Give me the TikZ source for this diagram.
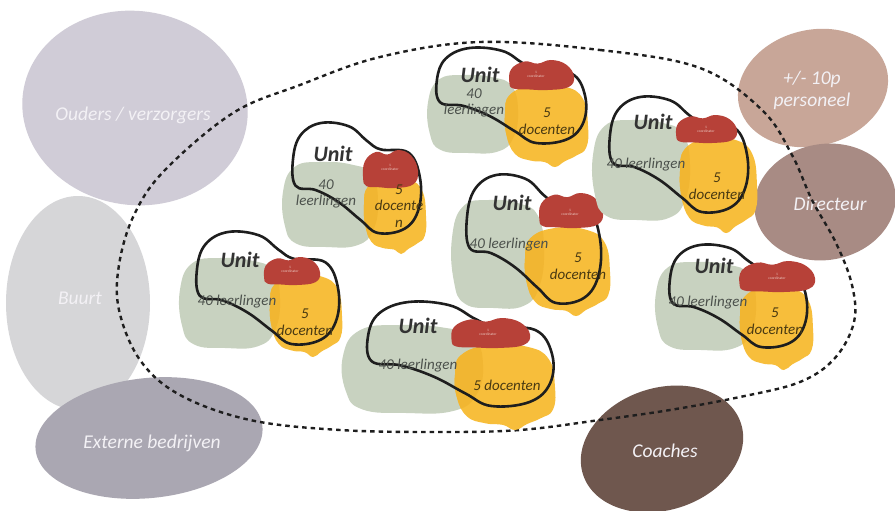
\documentclass[tikz,border=0pt]{standalone}
\usepackage{fontspec}
\setmainfont{Carlito}[ItalicFont={Carlito Italic},BoldFont={Carlito Bold},BoldItalicFont={Carlito Bold Italic}]
\definecolor{couders}{HTML}{D0CCD7}
\definecolor{cbuurt}{HTML}{D6D6D8}
\definecolor{cextern}{HTML}{AAA7B2}
\definecolor{cpers}{HTML}{C8A698}
\definecolor{cdir}{HTML}{A88B84}
\definecolor{ccoach}{HTML}{6F574E}
\definecolor{cgreen}{HTML}{C8D2C0}
\definecolor{cyellow}{HTML}{F7BE3B}
\definecolor{cyellowdk}{HTML}{F1B632}
\definecolor{cred}{HTML}{B74138}
\definecolor{cline}{HTML}{1E1E1E}
\definecolor{ctitle}{HTML}{333333}
\definecolor{cll}{HTML}{4C514C}
\definecolor{cdoc}{HTML}{4A3A12}
\definecolor{clabel}{HTML}{F3F1F5}
\definecolor{ccoord}{HTML}{EBC9C2}
\newcommand\greenshape{plot[smooth cycle,tension=0.75] coordinates {(0.12,0.06) (0.4,0) (0.72,0.03) (0.93,0.14) (1,0.45) (0.95,0.8) (0.78,0.98) (0.45,1) (0.14,0.96) (0.02,0.75) (0,0.35)}}
\newcommand\yellowshape{plot[smooth cycle,tension=0.75] coordinates {(0.06,0.12) (0.35,0) (0.72,0.02) (0.94,0.17) (1,0.5) (0.98,0.76) (0.86,0.86) (0.72,0.93) (0.6,1) (0.48,0.94) (0.3,0.92) (0.12,0.84) (0.02,0.62) (0,0.35)}}
\newcommand\redshape{plot[smooth cycle,tension=0.7] coordinates {(0.02,0.75) (0.05,0.3) (0.25,0.05) (0.45,0.12) (0.65,0) (0.88,0.15) (1,0.55) (0.92,0.9) (0.6,1) (0.3,0.98) (0.08,0.95)}}
\newcommand\outlineshape{plot[smooth cycle,tension=0.65] coordinates {(0,0.33) (0.06,0.11) (0.22,0) (0.44,0.03) (0.58,0.16) (0.69,0.24) (0.91,0.27) (1,0.5) (0.99,0.78) (0.88,0.96) (0.67,1) (0.53,0.88) (0.36,0.72) (0.18,0.61) (0.02,0.57)}}
\newcommand\unitblobs[4]{%
  \begin{scope}[#1]\fill[cgreen] \greenshape;\end{scope}
  \begin{scope}[#2]\fill[cyellow] \yellowshape; \clip \yellowshape;
    \begin{scope}[reset cm,#1]\fill[cyellowdk] \greenshape;\end{scope}
  \end{scope}
  \begin{scope}[#4]\draw[unitline] \outlineshape;\end{scope}
  \begin{scope}[#3]\fill[cred] \redshape;\end{scope}
}
\tikzset{
  unitline/.style={draw=cline,line width=2.6pt},
  dashline/.style={draw=cline,line width=2.4pt,dash pattern=on 4.5pt off 4pt},
  unittitle/.style={font=\fontsize{22}{22}\selectfont\bfseries\itshape,text=ctitle,inner sep=0pt},
  lltext/.style={font=\fontsize{15}{16}\selectfont\itshape,text=cll,align=center,inner sep=0pt},
  doctext/.style={font=\fontsize{15}{16.5}\selectfont\itshape,text=cdoc,align=center,inner sep=0pt},
  coordtext/.style={font=\fontsize{3.6}{4.2}\selectfont,text=ccoord,align=center,inner sep=0pt},
  outlabel/.style={font=\fontsize{19.5}{22}\selectfont\itshape,text=clabel,align=center,inner sep=0pt}
}
\begin{document}
\begin{tikzpicture}[x=1pt,y=-1pt]
\useasboundingbox (0,0) rectangle (895,511);
\fill[white] (0,0) rectangle (895,511);
% outer groups
\fill[couders,rotate around={-8:(135,108)}] (135,108) ellipse [x radius=113,y radius=97];
\fill[cbuurt] (78,303) ellipse [x radius=72,y radius=107];
\fill[cextern,rotate around={6:(149,438)}] (149,438) ellipse [x radius=114,y radius=60];
\fill[cpers,rotate around={14:(813,88)}] (813,88) ellipse [x radius=76,y radius=58];
\fill[cdir,rotate around={10:(825,202)}] (825,202) ellipse [x radius=71,y radius=58];
\fill[ccoach,rotate around={18:(662,449)}] (662,449) ellipse [x radius=83,y radius=61];
\node[outlabel] (ouders) at (133,115) {Ouders / verzorgers};
\node[outlabel] (buurt) at (80,298) {Buurt};
\node[outlabel] (extern) at (152,443) {Externe bedrijven};
\node[outlabel] (pers) at (812,90) {+/- 10p\\personeel};
\node[outlabel] (dir) at (830,204) {Directeur};
\node[outlabel] (coach) at (665,451) {Coaches};
% school boundary
\draw[dashline] plot[smooth cycle,tension=0.6] coordinates {(480,42) (600,50) (700,68) (762,110) (792,155) (812,200) (836,243) (852,285) (854,322) (835,358) (800,382) (740,397) (670,410) (600,420) (520,430) (440,432) (340,430) (250,420) (180,395) (140,360) (119,310) (119,265) (134,215) (165,170) (233,113) (300,85) (380,57)};
% units
\unitblobs{shift={(428,75)},xscale=90,yscale=78}{shift={(505,85)},xscale=83,yscale=82}{shift={(508,60)},xscale=66,yscale=30}{shift={(437,48)},xscale=148,yscale=95}
\unitblobs{shift={(283,162)},xscale=95,yscale=85}{shift={(364,178)},xscale=62,yscale=76}{shift={(362,150)},xscale=56,yscale=38}{shift={(293,123)},xscale=127,yscale=110}
\unitblobs{shift={(180,258)},xscale=100,yscale=90}{shift={(270,275)},xscale=72,yscale=82}{shift={(263,257)},xscale=57,yscale=28}{shift={(197,232)},xscale=141,yscale=112}
\unitblobs{shift={(343,325)},xscale=140,yscale=88}{shift={(455,345)},xscale=100,yscale=85}{shift={(450,318)},xscale=80,yscale=30}{shift={(368,302)},xscale=184,yscale=104}
\unitblobs{shift={(452,200)},xscale=92,yscale=108}{shift={(525,228)},xscale=85,yscale=88}{shift={(538,193)},xscale=65,yscale=35}{shift={(467,175)},xscale=133,yscale=128}
\unitblobs{shift={(593,120)},xscale=97,yscale=100}{shift={(680,138)},xscale=77,yscale=95}{shift={(675,115)},xscale=62,yscale=28}{shift={(610,97)},xscale=137,yscale=115}
\unitblobs{shift={(656,262)},xscale=100,yscale=88}{shift={(740,287)},xscale=73,yscale=83}{shift={(738,261)},xscale=77,yscale=31}{shift={(670,245)},xscale=136,yscale=102}
% unit 1
\node[unittitle] (u1t) at (480,75) {Unit};
\node[lltext] (u1l) at (474,103) {40\\leerlingen};
\node[doctext] (u1d) at (547,121) {5\\docenten};
\node[coordtext] (u1c) at (536,74) {1\\coordinator};
% unit 2
\node[unittitle] (u2t) at (333,154) {Unit};
\node[lltext] (u2l) at (326,194) {40\\leerlingen};
\node[doctext] (u2d) at (399,206) {\hfill5\\docente\\n};
\node[coordtext] (u2c) at (390,167) {1\\coordinator};
% unit 3
\node[unittitle] (u3t) at (240,260) {Unit};
\node[lltext] (u3l) at (237,302) {40 leerlingen};
\node[doctext] (u3d) at (305,322) {5\\docenten};
\node[coordtext] (u3c) at (290,269) {1\\coordinator};
% unit 4
\node[unittitle] (u4t) at (418,326) {Unit};
\node[lltext] (u4l) at (418,366) {40 leerlingen};
\node[doctext] (u4d) at (507,385) {5 docenten};
\node[coordtext] (u4c) at (488,332) {1\\coordinator};
% unit 5
\node[unittitle] (u5t) at (512,203) {Unit};
\node[lltext] (u5l) at (509,245) {40 leerlingen};
\node[doctext] (u5d) at (578,266) {5\\docenten};
\node[coordtext] (u5c) at (570,212) {1\\coordinator};
% unit 6
\node[unittitle] (u6t) at (653,122) {Unit};
\node[lltext] (u6l) at (646,165) {40 leerlingen};
\node[doctext] (u6d) at (717,186) {5\\docenten};
\node[coordtext] (u6c) at (706,129) {1\\coordinator};
% unit 7
\node[unittitle] (u7t) at (714,266) {Unit};
\node[lltext] (u7l) at (708,303) {40 leerlingen};
\node[doctext] (u7d) at (775,321) {5\\docenten};
\node[coordtext] (u7c) at (777,276) {1\\coordinator};
\end{tikzpicture}
\end{document}
